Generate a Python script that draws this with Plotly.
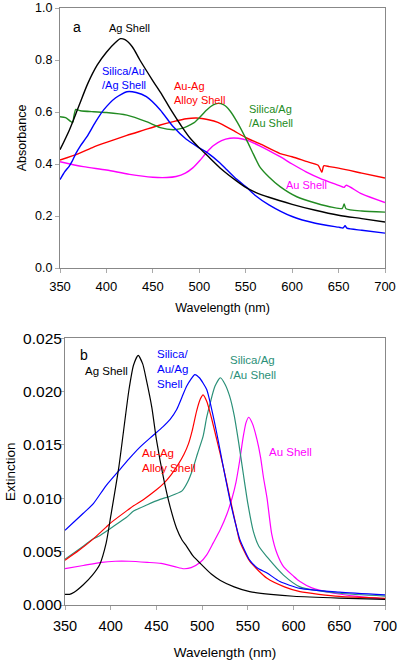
import plotly.graph_objects as go

# ---------------- Panel a (Absorbance) ----------------
ag_a_x = [350, 360, 370, 380, 390, 400, 410, 415, 420, 428, 436, 450, 460, 470, 480, 490, 500, 510, 524, 540, 550, 560, 575, 600, 625, 650, 675, 700]
ag_a_y = [0.455, 0.53, 0.62, 0.71, 0.78, 0.83, 0.868, 0.882, 0.878, 0.85, 0.80, 0.72, 0.665, 0.605, 0.55, 0.50, 0.462, 0.428, 0.38, 0.335, 0.31, 0.292, 0.272, 0.245, 0.222, 0.203, 0.19, 0.177]

sag_a_x = [350, 355, 360, 363, 367, 372, 379, 388, 397, 410, 422, 432, 443, 458, 472, 486, 500, 510, 522, 530, 540, 551, 560, 575, 600, 625, 650, 655, 657, 659, 675, 700]
sag_a_y = [0.34, 0.37, 0.392, 0.41, 0.44, 0.47, 0.505, 0.56, 0.608, 0.655, 0.678, 0.675, 0.659, 0.608, 0.543, 0.495, 0.462, 0.44, 0.405, 0.377, 0.342, 0.31, 0.28, 0.243, 0.198, 0.172, 0.157, 0.154, 0.163, 0.153, 0.145, 0.134]

alloy_a_x = [350, 370, 386, 400, 422, 440, 458, 472, 486, 497, 510, 520, 535, 551, 565, 587, 600, 615, 628, 632, 634, 640, 650, 675, 700]
alloy_a_y = [0.415, 0.44, 0.465, 0.483, 0.51, 0.53, 0.55, 0.563, 0.574, 0.577, 0.57, 0.56, 0.532, 0.50, 0.478, 0.44, 0.428, 0.41, 0.395, 0.368, 0.393, 0.39, 0.384, 0.365, 0.346]

sau_a_x = [350, 356, 361, 363.6, 365, 367, 372, 386, 400, 422, 443, 458, 472, 480, 487, 494, 500, 508, 515, 520, 526, 533, 541, 551, 558, 565, 575, 587, 605, 626, 644, 654, 656, 658, 675, 700]
sau_a_y = [0.582, 0.578, 0.565, 0.559, 0.585, 0.61, 0.605, 0.601, 0.598, 0.588, 0.563, 0.54, 0.532, 0.536, 0.545, 0.558, 0.578, 0.608, 0.627, 0.633, 0.628, 0.605, 0.56, 0.492, 0.44, 0.39, 0.35, 0.313, 0.274, 0.249, 0.233, 0.229, 0.246, 0.228, 0.219, 0.215]

au_a_x = [350, 375, 400, 425, 450, 465, 475, 485, 493, 501, 508, 515, 524, 533, 542, 551, 565, 587, 600, 615, 630, 650, 656, 658, 675, 700]
au_a_y = [0.409, 0.39, 0.377, 0.36, 0.349, 0.348, 0.352, 0.365, 0.385, 0.415, 0.445, 0.47, 0.49, 0.499, 0.499, 0.492, 0.47, 0.428, 0.40, 0.37, 0.345, 0.318, 0.31, 0.318, 0.285, 0.252]

# ---------------- Panel b (Extinction) ----------------
ag_b_x = [350, 355, 360, 370, 380, 388, 395, 400, 409, 420, 425, 430, 435, 439, 445, 450, 458, 465, 472, 478, 483, 490, 498, 510, 520, 535, 552, 575, 600, 650, 700]
ag_b_y = [0.0010, 0.0010, 0.0012, 0.0019, 0.0028, 0.0038, 0.0058, 0.0083, 0.0130, 0.0202, 0.0225, 0.0234, 0.0226, 0.0211, 0.0185, 0.0155, 0.0118, 0.0092, 0.0072, 0.0061, 0.0055, 0.0046, 0.0039, 0.0029, 0.0023, 0.0017, 0.00125, 0.0010, 0.00082, 0.00065, 0.00053]

sag_b_x = [350, 360, 370, 381, 395, 410, 420, 432, 445, 457, 465, 472, 478, 483, 488, 492, 497, 505, 510, 516, 523, 530, 536, 541, 552, 560, 571, 585, 607, 650, 700]
sag_b_y = [0.0070, 0.0078, 0.0086, 0.0095, 0.0112, 0.0127, 0.0137, 0.0148, 0.0158, 0.0167, 0.0174, 0.0183, 0.0195, 0.0205, 0.0212, 0.0216, 0.0213, 0.0202, 0.0185, 0.0161, 0.0130, 0.0100, 0.0078, 0.0062, 0.0042, 0.0035, 0.0030, 0.0022, 0.00156, 0.0012, 0.00094]

alloy_b_x = [350, 365, 381, 395, 400, 417, 425, 436, 450, 458, 466, 474, 480, 485, 489, 494, 498, 501, 505, 510, 516, 523, 530, 538, 541, 552, 571, 590, 607, 650, 700]
alloy_b_y = [0.0042, 0.0051, 0.0062, 0.0073, 0.0077, 0.0088, 0.0093, 0.0099, 0.0108, 0.0114, 0.0122, 0.0132, 0.0141, 0.0151, 0.0163, 0.0182, 0.0193, 0.0197, 0.0191, 0.0176, 0.0155, 0.0130, 0.0102, 0.0071, 0.0060, 0.0041, 0.0025, 0.0017, 0.00125, 0.0008, 0.00063]

sau_b_x = [350, 365, 381, 388, 400, 417, 425, 440, 454, 465, 478, 484, 490, 495, 501, 505, 509, 514, 520, 525, 530, 535, 540, 545, 550, 556, 562, 571, 589, 607, 650, 700]
sau_b_y = [0.0043, 0.0052, 0.0062, 0.0065, 0.0072, 0.0082, 0.0088, 0.0094, 0.0099, 0.0102, 0.0107, 0.0115, 0.0128, 0.0142, 0.0158, 0.0176, 0.0190, 0.0205, 0.0213, 0.0207, 0.0196, 0.0178, 0.0152, 0.0123, 0.0095, 0.0069, 0.0055, 0.0045, 0.0028, 0.0017, 0.0011, 0.00084]

au_b_x = [350, 370, 390, 405, 420, 440, 455, 470, 480, 488, 498, 505, 512, 520, 527, 533, 537, 541, 545, 548, 551, 555, 560, 564, 567, 571, 576, 582, 589, 600, 607, 620, 644, 670, 700]
au_b_y = [0.0034, 0.0037, 0.0040, 0.0041, 0.0041, 0.0040, 0.0039, 0.0036, 0.0034, 0.0035, 0.0040, 0.0047, 0.0058, 0.0071, 0.0085, 0.0101, 0.0115, 0.0135, 0.0158, 0.0171, 0.0176, 0.0170, 0.0155, 0.0138, 0.0120, 0.0100, 0.0067, 0.0048, 0.0036, 0.0027, 0.0022, 0.0016, 0.0011, 0.0008, 0.00053]

x_ticks = [350, 400, 450, 500, 550, 600, 650, 700]

BLACK = "#000000"
BLUE = "#0000ff"
RED = "#ff0000"
GREEN = "#228b22"
MAGENTA = "#ff00ff"
TEAL = "#2b9078"
FONT = "Liberation Sans, Arial, sans-serif"

fig = go.Figure()

def add(x, y, color, xa, ya, width, smooth):
    fig.add_trace(go.Scatter(x=x, y=y, mode="lines", xaxis=xa, yaxis=ya,
                             line=dict(color=color, width=width, shape="spline", smoothing=smooth),
                             showlegend=False, hoverinfo="skip"))

add(au_a_x, au_a_y, MAGENTA, "x", "y", 1.4, 0.8)
add(alloy_a_x, alloy_a_y, RED, "x", "y", 1.4, 0.6)
add(sau_a_x, sau_a_y, GREEN, "x", "y", 1.4, 0.6)
add(sag_a_x, sag_a_y, BLUE, "x", "y", 1.4, 0.6)
add(ag_a_x, ag_a_y, BLACK, "x", "y", 1.4, 0.8)

add(au_b_x, au_b_y, MAGENTA, "x2", "y2", 1.2, 0.6)
add(sau_b_x, sau_b_y, TEAL, "x2", "y2", 1.2, 0.6)
add(alloy_b_x, alloy_b_y, RED, "x2", "y2", 1.2, 0.6)
add(sag_b_x, sag_b_y, BLUE, "x2", "y2", 1.2, 0.6)
add(ag_b_x, ag_b_y, BLACK, "x2", "y2", 1.2, 0.6)

axis_common = dict(showgrid=False, zeroline=False, showline=True, mirror=True,
                   linecolor="#888888", linewidth=1, ticks="outside", ticklen=4,
                   tickcolor="#aaaaaa", color="#000000", automargin=False)

fig.update_layout(
    width=400, height=666, autosize=False,
    margin=dict(l=0, r=0, t=0, b=0),
    paper_bgcolor="white", plot_bgcolor="white",
    font=dict(family=FONT, color="#000000"),
    xaxis=dict(domain=[60/400, 385/400], range=[350, 700], tickvals=x_ticks,
               anchor="y", tickfont=dict(size=13), ticklabelstandoff=2,
               title=dict(text="Wavelength (nm)", font=dict(size=12.5), standoff=10), **axis_common),
    yaxis=dict(domain=[1-268/666, 1-8/666], range=[0, 1.0], dtick=0.2, tickformat=".1f",
               anchor="x", tickfont=dict(size=12.5),
               title=dict(text="Absorbance", font=dict(size=12.5), standoff=5), **axis_common),
    xaxis2=dict(domain=[65/400, 385/400], range=[350, 700], tickvals=x_ticks,
                anchor="y2", tickfont=dict(size=14.5), ticklabelstandoff=4,
                title=dict(text="Wavelength (nm)", font=dict(size=13.5), standoff=14), **axis_common),
    yaxis2=dict(domain=[1-605/666, 1-338.3/666], range=[0, 0.025], dtick=0.005, tickformat=".3f",
                anchor="x2", tickfont=dict(size=15.5), ticklabelstandoff=-5,
                title=dict(text="Extinction", font=dict(size=13.5), standoff=4), **axis_common),
)

def note(text, x, y, color, xa, ya, size=11, xanchor="left"):
    fig.add_annotation(text=text, x=x, y=y, xref=xa, yref=ya, showarrow=False,
                       xanchor=xanchor, yanchor="middle", align="left",
                       font=dict(size=size, color=color, family=FONT))

note("a", 362, 0.927, BLACK, "x", "y", size=14)
note("Ag Shell", 425, 0.923, BLACK, "x", "y", xanchor="center")
note("Silica/Au<br>/Ag Shell", 393, 0.729, BLUE, "x", "y")
note("Au-Ag<br>Alloy Shell", 470.6, 0.673, RED, "x", "y")
note("Silica/Ag<br>/Au Shell", 551.3, 0.583, GREEN, "x", "y")
note("Au Shell", 591, 0.319, MAGENTA, "x", "y")

note("b", 364, 0.02344, BLACK, "x2", "y2", size=14)
note("Ag Shell", 369.7, 0.02197, BLACK, "x2", "y2", size=11.5)
note("Silica/<br>Au/Ag<br>Shell", 448.5, 0.02212, BLUE, "x2", "y2", size=11.5)
note("Silica/Ag<br>/Au Shell", 528.3, 0.02228, TEAL, "x2", "y2", size=11.5)
note("Au-Ag<br>Alloy Shell", 432, 0.01359, RED, "x2", "y2", size=11.5)
note("Au Shell", 571, 0.01437, MAGENTA, "x2", "y2", size=11.5)

fig.write_html("out.html", config={"displayModeBar": False},
               post_script="document.body.style.margin='0';")
